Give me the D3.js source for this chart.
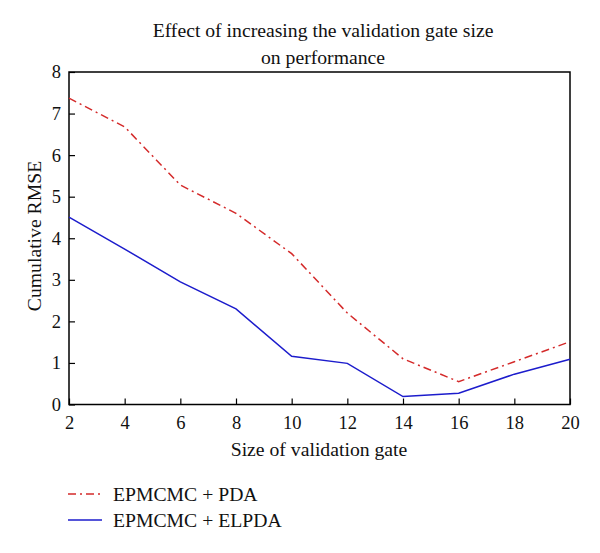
<!DOCTYPE html>
<html><head><meta charset="utf-8">
<script src="https://cdn.jsdelivr.net/npm/d3@7"></script>
<style>body{margin:0;background:#fff;} text{font-family:"Liberation Serif","DejaVu Serif",serif;fill:#111;}</style>
</head><body>
<svg id="c" width="600" height="553"></svg>
<script>
const gateSizes = [2,4,6,8,10,12,14,16,18,20];
const pdaValues = [7.37,6.68,5.28,4.6,3.63,2.2,1.1,0.55,1.03,1.51];
const elpdaValues = [4.51,3.74,2.95,2.3,1.16,0.99,0.19,0.27,0.73,1.09];
const xTicks = [2,4,6,8,10,12,14,16,18,20];
const yTicks = [0,1,2,3,4,5,6,7,8];
const seriesNames = ["EPMCMC + PDA","EPMCMC + ELPDA"];

const svg = d3.select("#c");
const L=69, R=570, T=72, B=404.5;
const x = d3.scaleLinear().domain([2,20]).range([L,R]);
const y = d3.scaleLinear().domain([0,8]).range([B,T]);
const FS="19.7px";

// title
svg.append("text").attr("x",323).attr("y",37).attr("text-anchor","middle").style("font-size",FS).text("Effect of increasing the validation gate size");
svg.append("text").attr("x",323).attr("y",64).attr("text-anchor","middle").style("font-size",FS).text("on performance");

// axes
const gx = svg.append("g").attr("transform",`translate(0,${B})`)
  .call(d3.axisBottom(x).tickValues(xTicks).tickSize(-6).tickPadding(11).tickFormat(d3.format("d")));
const gy = svg.append("g").attr("transform",`translate(${L},0)`)
  .call(d3.axisLeft(y).tickValues(yTicks).tickSize(-6).tickPadding(8).tickFormat(d3.format("d")));
[gx,gy].forEach(g=>{
  g.select(".domain").remove();
  g.selectAll(".tick line").attr("stroke","#000").attr("stroke-width",1.2);
  g.selectAll(".tick text").style("font-size","18.5px").style("font-family","Liberation Serif, serif").attr("fill","#111");
});
// box
svg.append("rect").attr("x",L).attr("y",T).attr("width",R-L).attr("height",B-T)
  .attr("fill","none").attr("stroke","#000").attr("stroke-width",1.5);

// axis labels
svg.append("text").attr("x",319).attr("y",456).attr("text-anchor","middle").style("font-size",FS).text("Size of validation gate");
svg.append("text").attr("transform",`translate(41,236) rotate(-90)`).attr("text-anchor","middle").style("font-size",FS).text("Cumulative RMSE");

const line = d3.line().x(d=>x(d[0])).y(d=>y(d[1]));
const redData = gateSizes.map((g,i)=>[g,pdaValues[i]]);
const blueData = gateSizes.map((g,i)=>[g,elpdaValues[i]]);
const red="#d42a2a", blue="#1c1ccc";
svg.append("path").datum(redData).attr("d",line).attr("fill","none").attr("stroke",red)
  .attr("stroke-width",1.5).attr("stroke-dasharray","8,4,2,4");
svg.append("path").datum(blueData).attr("d",line).attr("fill","none").attr("stroke",blue)
  .attr("stroke-width",1.5);

// legend
const leg = [{n:seriesNames[0],c:red,d:"8,4,2,4",y:494},{n:seriesNames[1],c:blue,d:null,y:520}];
leg.forEach(l=>{
  svg.append("line").attr("x1",68).attr("x2",102).attr("y1",l.y).attr("y2",l.y)
    .attr("stroke",l.c).attr("stroke-width",1.5).attr("stroke-dasharray",l.d);
  svg.append("text").attr("x",113).attr("y",l.y+6.5).style("font-size",FS).text(l.n);
});
</script>
</body></html>
